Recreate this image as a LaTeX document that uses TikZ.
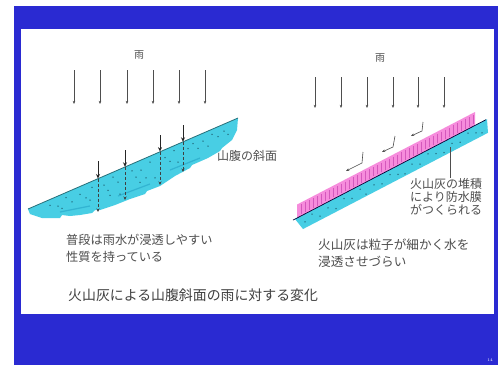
\documentclass[tikz,border=0pt]{standalone}
\usepackage{fontspec}
\newfontfamily\jp{Noto Sans CJK JP}
\usetikzlibrary{arrows.meta}
\definecolor{slideblue}{RGB}{42,42,210}
\definecolor{soil}{RGB}{72,206,228}
\definecolor{soildark}{RGB}{50,180,210}
\definecolor{ash}{RGB}{246,140,220}
\definecolor{ashline}{RGB}{212,88,188}
\definecolor{ink}{RGB}{78,78,78}
\definecolor{edge}{RGB}{40,112,122}
\definecolor{grain}{RGB}{30,100,118}
\begin{document}
\begin{tikzpicture}[x=1pt,y=-1pt,
  rain/.style={draw=ink, line width=0.6pt, -{Stealth[length=3.2pt,width=2.6pt]}},
  drop/.style={draw=black!85, line width=0.8pt, -{Stealth[length=4.5pt,width=4pt]}},
  seep/.style={draw=black!75, line width=0.6pt, densely dashed, -{Stealth[length=3.5pt,width=3pt]}},
  runoff/.style={draw=black!70, line width=0.6pt, -{Stealth[length=3.2pt,width=2.6pt]}},
  txt/.style={text=ink, inner sep=0pt, anchor=west},
  grainmark/.style={fill=grain}
  ]
\useasboundingbox (0,0) rectangle (498,365);
% slide frame
\fill[white] (0,0) rectangle (498,365);
\fill[slideblue] (14,6) rectangle (498,365);
\fill[white] (21,29) rectangle (494,314);
\node[font=\fontsize{4}{4}\selectfont, text=white] (pagenum) at (490,360) {14};

% ---------- left: ordinary slope ----------
\node[txt, anchor=center, font=\jp\fontsize{10}{10}\selectfont] (rainL) at (139,55) {雨};
\foreach \x in {74,100,127,153,179,205}
  \draw[rain] (\x,70) -- (\x,104);

\fill[soil] (28,209) -- (238,118) -- (237,130) -- (232,140) -- (222,148) -- (220,151)
  -- (208,158) -- (192,165) -- (190,168) -- (175,176) -- (160,186) -- (147,191)
  -- (145,194) -- (130,199) -- (115,205) -- (100,210) -- (95,210) -- (92,213)
  -- (80,215) -- (70,216) -- (62,215) -- (60,218) -- (42,218) -- (30,214) -- cycle;
% darker streaks in the soil
\draw[soildark, line width=1.2pt] (60,212) -- (90,206);
\draw[soildark, line width=1.2pt] (118,196) -- (150,184);
\draw[soildark, line width=1.2pt] (170,170) -- (200,158);
\foreach \x/\s in {50/6,58/10,66/5,72/12,80/8,86/14,92/6,104/9,108/16,113/5,118/12,
  132/7,136/15,141/10,146/20,150/6,165/8,170/14,174/5,178/18,188/9,193/6,198/13,
  203/8,208/15,212/5,218/10,224/7,228/12,110/22,90/18,62/14,155/24,120/25,140/22}
  \fill[grainmark] (\x,{209-0.4333*(\x-28)+\s}) circle (0.75);
\draw[edge, line width=0.8pt] (28,209) -- (238,118);

% infiltration
\foreach \x/\a/\b/\c in {98/161/178.5/212, 125/150/166.8/200, 160/135/151.6/185, 183/125/141.8/172}{
  \draw[drop] (\x,\a) -- (\x,\b);
  \draw[seep] (\x,\b) -- (\x,\c);
}
\node[txt, font=\jp\fontsize{12}{12}\selectfont] (slopeL) at (217,156) {山腹の斜面};

\node[txt, font=\jp\fontsize{12.2}{14}\selectfont] (noteL1) at (66,240) {普段は雨水が浸透しやすい};
\node[txt, font=\jp\fontsize{12.2}{14}\selectfont] (noteL2) at (66,257) {性質を持っている};

% ---------- right: ash-covered slope ----------
\node[txt, anchor=center, font=\jp\fontsize{10}{10}\selectfont] (rainR) at (380,58) {雨};
\foreach \x in {315,341,367,393,418,444}
  \draw[rain] (\x,77) -- (\x,108);

% soil under the ash
\fill[soil] (295,219.04) -- (487,119.2) -- (488,132.8) -- (303,229.04) -- cycle;
\foreach \x/\s in {305/8,312/4,320/10,328/6,336/11,344/5,352/9,360/4,366/12,374/7,
  382/10,390/5,398/9,405/12,412/6,420/10,428/4,436/8,444/11,452/6,460/9,468/4,476/8,482/11}
  \fill[grainmark] (\x,{216.44-0.52*(\x-300)+\s}) circle (0.75);

% ash layer
\fill[ash] (297,204.56) -- (475,112) -- (475,125.44) -- (297,217.98) -- cycle;
\foreach \x in {301,305,...,473}
  \draw[ashline, line width=0.8pt] (\x,{203-0.52*(\x-300)+2}) -- (\x,{216.44-0.52*(\x-300)-2});
\draw[black!80!blue, line width=0.7pt] (293,220.1) -- (486,119.7);

% runoff on the ash surface
\draw[runoff] (363,152) -- (362,163) -- (346,171);
\draw[runoff] (395,136) -- (393,147) -- (382,152);
\draw[runoff] (423,122) -- (422,131) -- (411,136);

\draw[ink, line width=0.5pt] (450,147) -- (450,178);
\node[txt, font=\jp\fontsize{12}{13}\selectfont] (ashL1) at (410,184) {火山灰の堆積};
\node[txt, font=\jp\fontsize{12}{13}\selectfont] (ashL2) at (410,197) {により防水膜};
\node[txt, font=\jp\fontsize{12}{13}\selectfont] (ashL3) at (410,210) {がつくられる};

\node[txt, font=\jp\fontsize{12.6}{14}\selectfont] (noteR1) at (318,245) {火山灰は粒子が細かく水を};
\node[txt, font=\jp\fontsize{12.6}{14}\selectfont] (noteR2) at (318,262) {浸透させづらい};

% caption
\node[txt, text=black!75, font=\jp\fontsize{13.9}{16}\selectfont] (caption) at (68,295) {火山灰による山腹斜面の雨に対する変化};
\end{tikzpicture}
\end{document}
